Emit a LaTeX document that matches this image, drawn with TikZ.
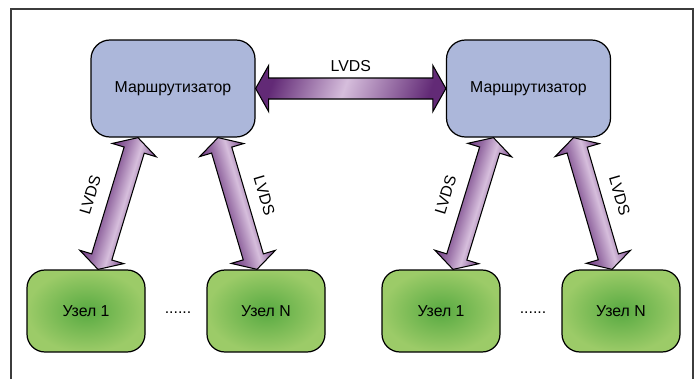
\documentclass[tikz,border=0pt]{standalone}
\usepackage{fontspec}
\setmainfont{Liberation Sans}

\definecolor{framegray}{RGB}{60,60,60}
\definecolor{routerblue}{RGB}{172,183,218}
\definecolor{nodegreen}{RGB}{88,170,66}
\definecolor{nodelight}{RGB}{156,203,104}
\definecolor{linkdark}{RGB}{98,42,118}
\definecolor{linklight}{RGB}{214,190,220}

% along the long link, and across the short ones
\pgfdeclarehorizontalshading{linkshade}{100bp}{color(0bp)=(linkdark); color(25bp)=(linkdark); color(48bp)=(linklight); color(75bp)=(linkdark); color(100bp)=(linkdark)}
\pgfdeclarehorizontalshading{linkside}{100bp}{color(0bp)=(linkdark!80!linklight); color(25bp)=(linkdark!80!linklight); color(44bp)=(linklight); color(60bp)=(linkdark!55!linklight); color(75bp)=(linkdark!90!linklight); color(100bp)=(linkdark!90!linklight)}

\tikzset{
  router/.style={draw,line width=0.7pt,rounded corners=0.38cm,fill=routerblue,
    minimum width=3.28cm,minimum height=1.94cm},
  endnode/.style={draw,line width=0.7pt,rounded corners=0.36cm,
    inner color=nodegreen,outer color=nodelight,
    minimum width=2.36cm,minimum height=1.64cm},
  linkbody/.style={draw,line width=0.6pt,line join=miter}
}

% fat double arrow from #1 to #2, label LVDS at #3 cm beside it, shading options #4
\newcommand\lvdslink[4]{%
  \path (#1); \pgfgetlastxy{\ax}{\ay}
  \path (#2); \pgfgetlastxy{\bx}{\by}
  \pgfmathsetmacro\linkang{atan2(\by-\ay,\bx-\ax)}
  \pgfmathsetmacro\linklen{veclen(\bx-\ax,\by-\ay)/28.45274}
  \shade[linkbody,#4,transform canvas={shift={(\ax,\ay)},rotate=\linkang}]
    (0,0) -- (0.26,0.46) -- (0.26,0.21) -- ({\linklen-0.26},0.21)
    -- ({\linklen-0.26},0.46) -- (\linklen,0) -- ({\linklen-0.26},-0.46)
    -- ({\linklen-0.26},-0.21) -- (0.26,-0.21) -- (0.26,-0.46) -- cycle;
  \begin{scope}[shift={(\ax,\ay)},rotate=\linkang]
    \node[rotate=\linkang] (#1-#2) at ({\linklen/2},#3) {LVDS};
  \end{scope}}

\begin{document}
\begin{tikzpicture}[x=1cm,y=1cm,font=\fontsize{9}{11}\selectfont]
\useasboundingbox (0,0) rectangle (14,7.58);
\draw[framegray,line width=0.6pt] (0.22,0) -- (0.22,7.4) -- (13.86,7.4) -- (13.86,0);

\node[router] (r1) at (3.46,5.81) {Маршрутизатор};
\node[router] (r2) at (10.57,5.81) {Маршрутизатор};

\node[endnode] (u11) at (1.72,1.36) {Узел 1};
\node[endnode] (u1n) at (5.32,1.36) {Узел N};
\node[endnode] (u21) at (8.82,1.36) {Узел 1};
\node[endnode] (u2n) at (12.42,1.36) {Узел N};
\node (d1) at (3.56,1.32) {......};
\node (d2) at (10.66,1.32) {......};

% arrow ends
\coordinate (h1) at (r1.east);
\coordinate (h2) at (r2.west);
\coordinate (r1a) at ([xshift=-0.70cm]r1.south);
\coordinate (r1b) at ([xshift=0.90cm]r1.south);
\coordinate (r2a) at ([xshift=-0.70cm]r2.south);
\coordinate (r2b) at ([xshift=0.90cm]r2.south);
\coordinate (u11t) at ([xshift=0.24cm]u11.north);
\coordinate (u1nt) at ([xshift=-0.18cm]u1n.north);
\coordinate (u21t) at ([xshift=0.24cm]u21.north);
\coordinate (u2nt) at ([xshift=-0.18cm]u2n.north);

\lvdslink{h1}{h2}{0.44}{shading=linkshade,shading angle=-20}
\lvdslink{u11t}{r1a}{0.58}{shading=linkside,shading angle=90}
\lvdslink{r1b}{u1nt}{0.56}{shading=linkside,shading angle=-90}
\lvdslink{u21t}{r2a}{0.58}{shading=linkside,shading angle=90}
\lvdslink{r2b}{u2nt}{0.56}{shading=linkside,shading angle=-90}
\end{tikzpicture}
\end{document}
